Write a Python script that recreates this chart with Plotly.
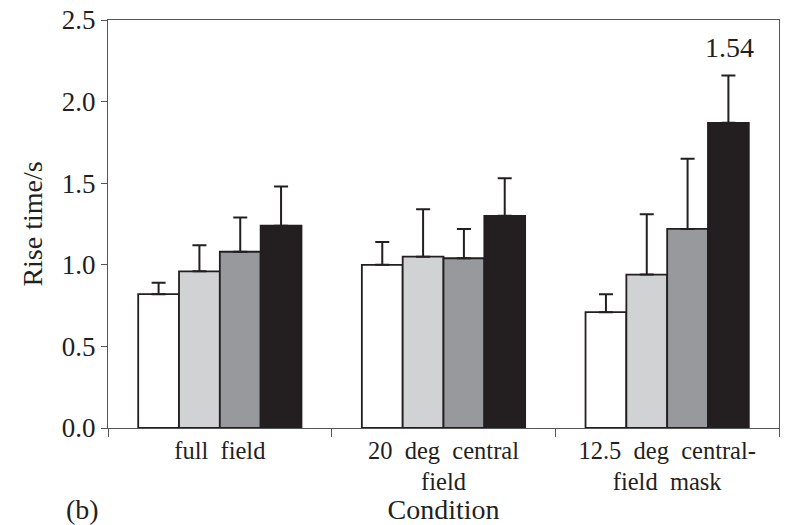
import plotly.graph_objects as go

categories = ["full field", "20 deg central field", "12.5 deg central-field mask"]
tick_labels = ["full  field", "20  deg  central<br>field", "12.5  deg  central-<br>field  mask"]
series_names = ["A", "B", "C", "D"]
series_values = [
    [0.82, 1.00, 0.71],
    [0.96, 1.05, 0.94],
    [1.08, 1.04, 1.22],
    [1.24, 1.30, 1.87],
]
series_err_top = [
    [0.89, 1.14, 0.82],
    [1.12, 1.34, 1.31],
    [1.29, 1.22, 1.65],
    [1.48, 1.53, 2.16],
]
colors = ["#ffffff", "#d1d2d4", "#98999c", "#231f20"]
yticks = [0.0, 0.5, 1.0, 1.5, 2.0, 2.5]

font_fam = "Liberation Serif, Times New Roman, serif"

fig = go.Figure()
for name, vals, tops, col in zip(series_names, series_values, series_err_top, colors):
    fig.add_trace(go.Bar(
        x=categories, y=vals, name=name,
        marker=dict(color=col, line=dict(color="#231f20", width=1.8)),
        error_y=dict(type="data", symmetric=False,
                     array=[t - v for t, v in zip(tops, vals)],
                     arrayminus=[0] * len(vals),
                     color="#231f20", thickness=2, width=7),
    ))

fig.add_annotation(x=categories[2], y=2.33, text="1.54", showarrow=False,
                   xshift=62, font=dict(size=28, color="#231f20", family=font_fam))
fig.add_annotation(x=-0.038, y=-0.2, xref="paper", yref="paper", text="(b)",
                   showarrow=False, xanchor="center", yanchor="middle",
                   font=dict(size=28, color="#231f20", family=font_fam))

fig.update_layout(
    width=789, height=525,
    margin=dict(l=108, r=10, t=20, b=97),
    plot_bgcolor="white", paper_bgcolor="white",
    barmode="group", bargap=0.27, bargroupgap=0,
    showlegend=False,
    font=dict(family=font_fam, color="#231f20", size=25),
)
fig.update_xaxes(
    tickvals=categories, ticktext=tick_labels, tickson="boundaries",
    ticks="outside", ticklen=8, tickcolor="#555", tickwidth=1,
    showline=True, linecolor="#555", linewidth=1.2, mirror=True,
    tickfont=dict(size=24.5), automargin=False,
    title=dict(text="Condition", font=dict(size=28), standoff=2),
)
fig.update_yaxes(
    range=[0, 2.5], tickvals=yticks, tickformat=".1f",
    ticks="outside", ticklen=6, tickcolor="#555", tickwidth=1,
    showline=True, linecolor="#555", linewidth=1.2, mirror=True,
    showgrid=False, zeroline=False,
    tickfont=dict(size=27), automargin=False,
    title=dict(text="Rise time/s", font=dict(size=28), standoff=10),
)

fig.write_html("out.html")
